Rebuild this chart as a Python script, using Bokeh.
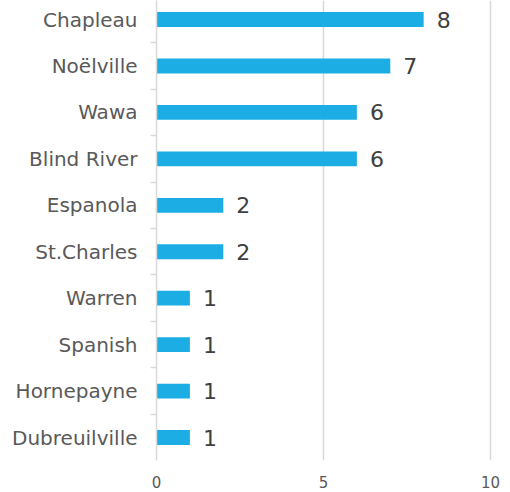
from bokeh.plotting import figure
from bokeh.models import Range1d, FixedTicker, ColumnDataSource
from bokeh.core.properties import value
from bokeh.embed import file_html
from bokeh.resources import INLINE

categories = ["Chapleau", "Noëlville", "Wawa", "Blind River", "Espanola",
              "St.Charles", "Warren", "Spanish", "Hornepayne", "Dubreuilville"]
counts = [8, 7, 6, 6, 2, 2, 1, 1, 1, 1]
x_ticks = [0, 5, 10]

n = len(categories)
ypos = [n - 1 - i for i in range(n)]
src = ColumnDataSource(dict(cat=categories, count=counts, y=ypos,
                            lbl=[str(c) for c in counts]))

p = figure(width=510, height=492, output_backend="svg", toolbar_location=None,
           x_range=Range1d(0, 10.6), y_range=Range1d(-0.495, n - 1 + 0.41),
           min_border_left=156, min_border_right=0, min_border_top=0,
           min_border_bottom=32)
p.outline_line_color = None

p.hbar(y="y", left=0, right="count", height=0.32, source=src,
       fill_color="#1CADE4", line_color=None)
p.text(x="count", y="y", text="lbl", source=src, x_offset=13,
       text_baseline="middle", text_align="left", text_font=value("DejaVu Sans"),
       text_font_size="22px", text_color="#404040")

# x axis
p.xaxis.ticker = FixedTicker(ticks=x_ticks, minor_ticks=[])
p.xaxis.axis_line_color = None
p.xaxis.major_tick_line_color = None
p.xaxis.major_tick_out = 0
p.xaxis.minor_tick_line_color = None
p.xaxis.major_label_text_font = "DejaVu Sans"
p.xaxis.major_label_text_font_size = "15px"
p.xaxis.major_label_text_color = "#595959"
p.xaxis.major_label_standoff = 15

# y axis
bounds = [v + 0.5 for v in range(-1, n)]
p.yaxis.ticker = FixedTicker(ticks=ypos, minor_ticks=bounds)
p.yaxis.major_label_overrides = {y: c for y, c in zip(ypos, categories)}
p.yaxis.axis_line_color = "#D9D9D9"
p.yaxis.axis_line_width = 1.5
p.yaxis.major_tick_line_color = None
p.yaxis.major_tick_out = 0
p.yaxis.minor_tick_line_color = "#D9D9D9"
p.yaxis.minor_tick_line_width = 1.5
p.yaxis.minor_tick_out = 6
p.yaxis.minor_tick_in = 0
p.yaxis.major_label_text_font = "DejaVu Sans"
p.yaxis.major_label_text_font_size = "20px"
p.yaxis.major_label_text_color = "#595959"
p.yaxis.major_label_standoff = 13

p.ygrid.grid_line_color = None
p.xgrid.ticker = FixedTicker(ticks=x_ticks)
p.xgrid.grid_line_color = "#D9D9D9"
p.xgrid.grid_line_width = 1.5

open("out.html", "w").write(file_html(p, INLINE))
